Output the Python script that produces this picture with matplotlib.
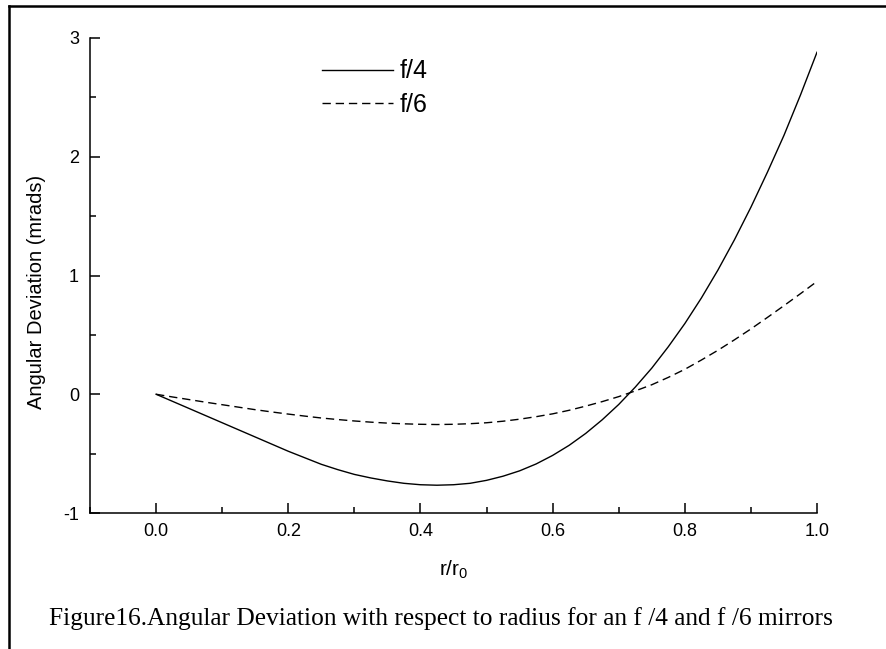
import matplotlib
matplotlib.use("Agg")
import matplotlib.pyplot as plt
from matplotlib.lines import Line2D

plt.rcParams["font.family"] = "Liberation Sans"
plt.rcParams["mathtext.fontset"] = "custom"
plt.rcParams["mathtext.rm"] = "Liberation Sans"
plt.rcParams["axes.unicode_minus"] = False

# Werte (Schritt 0.025)
r = [0.0, 0.025, 0.05, 0.075, 0.10, 0.125, 0.15, 0.175, 0.20, 0.225,
     0.25, 0.275, 0.30, 0.325, 0.35, 0.375, 0.40, 0.425, 0.45, 0.475,
     0.50, 0.525, 0.55, 0.575, 0.60, 0.625, 0.65, 0.675, 0.70, 0.725,
     0.75, 0.775, 0.80, 0.825, 0.85, 0.875, 0.90, 0.925, 0.95, 0.975, 1.00]
f4 = [0.0, -0.06, -0.12, -0.18, -0.24, -0.30, -0.36, -0.42, -0.48, -0.535,
      -0.59, -0.635, -0.675, -0.705, -0.73, -0.75, -0.762, -0.766, -0.762, -0.75,
      -0.725, -0.69, -0.645, -0.587, -0.515, -0.43, -0.33, -0.215, -0.086, 0.06,
      0.22, 0.40, 0.595, 0.81, 1.045, 1.30, 1.575, 1.87, 2.18, 2.52, 2.88]
f6 = [0.0, -0.023, -0.045, -0.067, -0.088, -0.109, -0.13, -0.149, -0.167, -0.184,
      -0.20, -0.213, -0.225, -0.235, -0.243, -0.249, -0.253, -0.255, -0.253, -0.248,
      -0.24, -0.227, -0.21, -0.189, -0.165, -0.135, -0.10, -0.062, -0.02, 0.028,
      0.08, 0.142, 0.21, 0.288, 0.37, 0.458, 0.55, 0.647, 0.746, 0.847, 0.95]

labels = ["f/4", "f/6"]
xticks = [0.0, 0.2, 0.4, 0.6, 0.8, 1.0]
yticks = [-1, 0, 1, 2, 3]

fig = plt.figure(figsize=(8.87, 6.49), dpi=100)
ax = fig.add_axes([90 / 887, 1 - 513 / 649, 727 / 887, 475 / 649])

ax.plot(r, f4, color="black", linewidth=1.0, label=labels[0])
ax.plot(r, f6, color="black", linewidth=1.0, dashes=(6, 3.5), label=labels[1])

ax.set_xlim(-0.1, 1.0)
ax.set_ylim(-1, 3)
ax.set_xticks(xticks)
ax.set_xticklabels([f"{v:.1f}" for v in xticks])
ax.set_yticks(yticks)
ax.set_xticks([-0.1 + 0.2 * i for i in range(6)], minor=True)
ax.set_yticks([-0.5, 0.5, 1.5, 2.5], minor=True)

ax.spines["top"].set_visible(False)
ax.spines["right"].set_visible(False)
ax.spines["left"].set_linewidth(1.1)
ax.spines["bottom"].set_linewidth(1.1)
ax.tick_params(which="major", direction="in", length=7.5, width=1.1, labelsize=13)
ax.tick_params(which="minor", direction="in", length=4, width=1.1)
ax.tick_params(axis="x", which="major", pad=7)
ax.tick_params(axis="y", which="major", pad=8)

ax.set_xlabel(r"r/r$_\mathregular{0}$", fontsize=15)
ax.xaxis.set_label_coords(0.5, (513 - 581) / 475)
ax.xaxis.label.set_va("bottom")
ax.set_ylabel("Angular Deviation (mrads)", fontsize=14.5)
ax.yaxis.set_label_coords((37 - 90) / 727, (513 - 292) / 475)
ax.yaxis.label.set_va("center")

ax.legend(loc="upper left", bbox_to_anchor=(321.7 / 887, 1 - 59.5 / 649),
          bbox_transform=fig.transFigure, frameon=False, fontsize=18,
          handlelength=2.86, handletextpad=0.27, labelspacing=0.37,
          borderpad=0, borderaxespad=0)

fig.text(441 / 887, 1 - 619 / 649,
         "Figure16.Angular Deviation with respect to radius for an f /4 and f /6 mirrors",
         family="Liberation Serif", fontsize=18.3, ha="center", va="center")

# Rahmen links und oben
fig.add_artist(Line2D([9 / 887, 9 / 887], [0, 1 - 6 / 649], color="black",
                      linewidth=1.8, transform=fig.transFigure))
fig.add_artist(Line2D([9 / 887, 1], [1 - 6 / 649, 1 - 6 / 649], color="black",
                      linewidth=1.8, transform=fig.transFigure))

fig.savefig("out.png", dpi=100)
